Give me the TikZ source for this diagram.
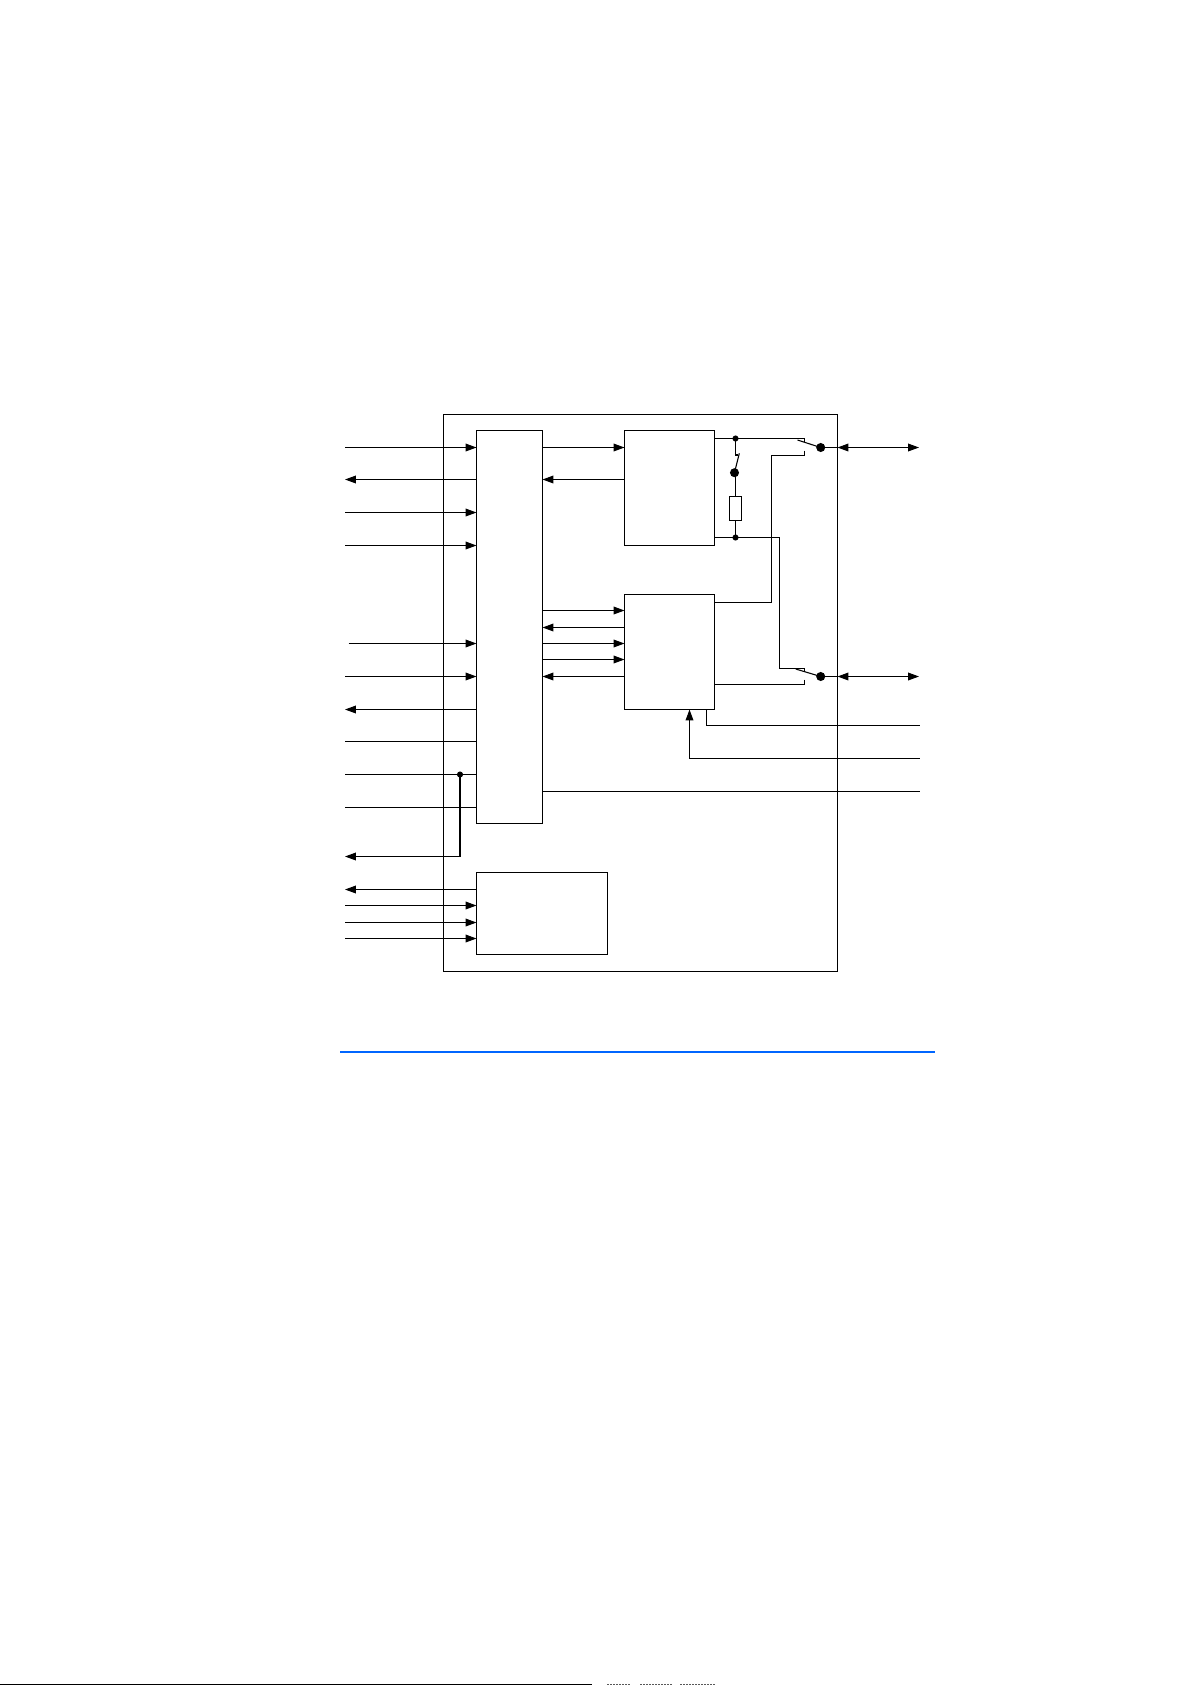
\documentclass[tikz,border=0pt]{standalone}
\usetikzlibrary{arrows.meta}
\definecolor{rulblue}{RGB}{0,102,255}
\tikzset{
  x=0.75pt,y=-0.75pt,
  wire/.style={line width=0.8pt,draw=black},
  tipa/.style={-{Triangle[length=8.2pt,width=5.8pt]}},
  tipb/.style={{Triangle[length=8.2pt,width=5.8pt]}-{Triangle[length=8.2pt,width=5.8pt]}},
  jdot/.style={circle,fill=black,inner sep=0pt,minimum size=4.6pt},
  bigdot/.style={circle,fill=black,inner sep=0pt,minimum size=6.8pt},
  speck/.style={line width=0.75pt,draw=black!65,dash pattern=on 1.5pt off 0.75pt},
}
\begin{document}
\begin{tikzpicture}[line join=miter]
\useasboundingbox (0,0) rectangle (1191,1685);
\fill[white] (0,0) rectangle (1191,1685);
% outer frame
\draw[wire] (443.5,414.5) rectangle (837.5,971.5);
% blocks as coordinates
\coordinate (mTL) at (476.5,430.5); \coordinate (mBR) at (542.5,823.5);
\coordinate (aTL) at (624.5,430.5); \coordinate (aBR) at (714.5,545.5);
\coordinate (bTL) at (624.5,594.5); \coordinate (bBR) at (714.5,709.5);
\coordinate (cTL) at (476.5,872.5); \coordinate (cBR) at (607.5,954.5);
\draw[wire] (mTL) rectangle (mBR);
\draw[wire] (aTL) rectangle (aBR);
\draw[wire] (bTL) rectangle (bBR);
\draw[wire] (cTL) rectangle (cBR);
% left wires
\foreach \y in {447.5,512.5,545.5,676.5} \draw[wire,tipa] (345,\y) -- (476.5,\y);
\draw[wire,tipa] (348.5,643.5) -- (476.5,643.5);
\foreach \y in {479.5,709.5} \draw[wire,tipa] (476.5,\y) -- (345,\y);
\foreach \y in {741.5,774.5,807.5} \draw[wire] (345,\y) -- (476.5,\y);
\node[jdot] (j1) at (460,774.5) {};
\coordinate (o1) at (345,856.5);
\draw[wire,tipa] (j1.center) |- (o1);
\draw[wire,tipa] (476.5,889.5) -- (345,889.5);
\foreach \y in {905.5,922.5,938.5} \draw[wire,tipa] (345,\y) -- (476.5,\y);
% main <-> A
\draw[wire,tipa] (542.5,447.5) -- (624.5,447.5);
\draw[wire,tipa] (624.5,479.5) -- (542.5,479.5);
% main <-> B
\foreach \y in {610.5,643.5,659.5} \draw[wire,tipa] (542.5,\y) -- (624.5,\y);
\foreach \y in {627.5,676.5} \draw[wire,tipa] (624.5,\y) -- (542.5,\y);
% switches
\node[jdot] (j2) at (735.5,438.5) {};
\node[jdot] (j3) at (735.5,537.5) {};
\node[bigdot] (s1) at (820.7,447.5) {};
\node[bigdot] (s2) at (820.7,676.5) {};
\node[bigdot] (s3) at (734.5,472.7) {};
\node[draw,line width=0.8pt,fill=white,inner sep=0pt,minimum width=9pt,minimum height=18pt] (r) at (735.5,508.5) {};
\draw[wire] (714.5,438.5) -- (804.5,438.5) -- (804.5,441.5);
\draw[wire] (797.5,440) -- (s1.center);
\draw[wire] (804.5,450.5) -- (804.5,455.5) -- (771.5,455.5) -- (771.5,602.5) -- (714.5,602.5);
\draw[wire] (j2.center) -- (735.5,455) -- (738,455);
\draw[wire] (739.3,453.3) -- (s3.center);
\draw[wire] (735.5,472.7) -- (r.north);
\draw[wire] (r.south) -- (j3.center);
\draw[wire] (714.5,537.5) -- (779.5,537.5) -- (779.5,668.5) -- (804.5,668.5) -- (804.5,672);
\draw[wire] (795.7,669) -- (s2.center);
\draw[wire] (804.5,679.5) -- (804.5,684.5) -- (714.5,684.5);
% terminals
\draw[wire] (s1.center) -- (837.5,447.5);
\draw[wire] (s2.center) -- (837.5,676.5);
\draw[wire,tipb] (837.5,447.5) -- (919,447.5);
\draw[wire,tipb] (837.5,676.5) -- (919,676.5);
% bottom right
\draw[wire] (706.5,709.5) |- (919.5,725.5);
\coordinate (b1) at (689.5,709.5);
\draw[wire,tipa] (919.5,758.5) -| (b1);
\draw[wire] (542.5,791.5) -- (919.5,791.5);
% rules
\fill[black] (0,1684) rectangle (592,1685);
\draw[speck] (607,1684.5) -- (630,1684.5);
\draw[speck] (640,1684.5) -- (672,1684.5);
\draw[speck] (680,1684.5) -- (716,1684.5);
\fill[rulblue] (340,1051) rectangle (935,1053);
\end{tikzpicture}
\end{document}
